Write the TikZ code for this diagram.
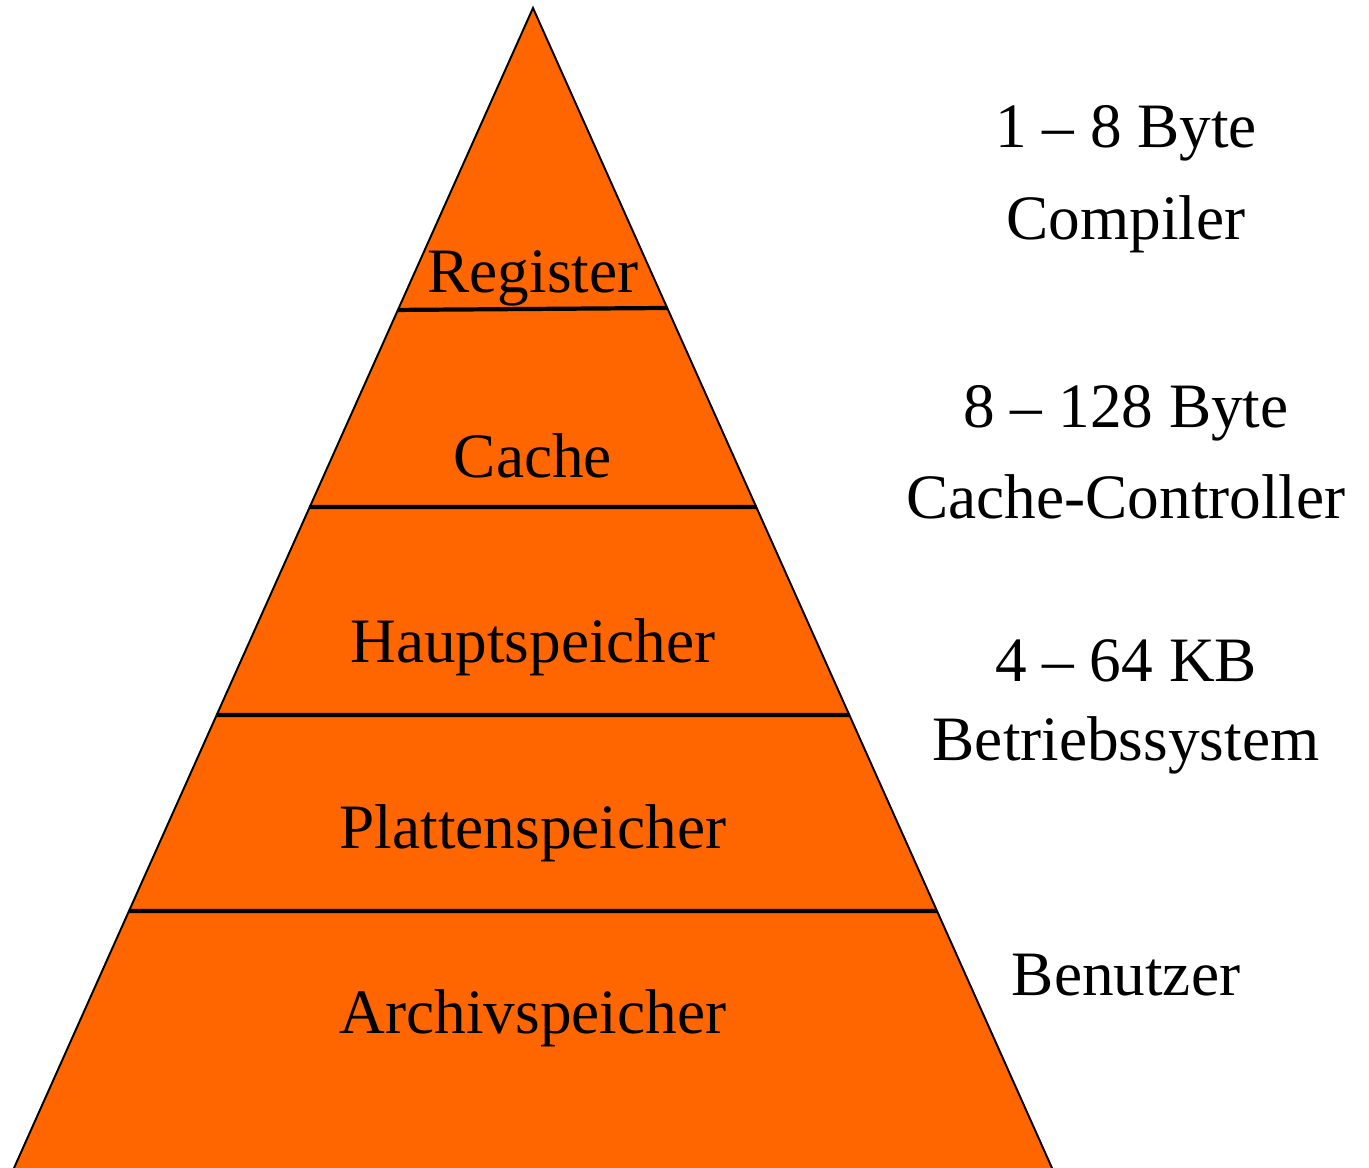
\documentclass[tikz,border=0pt]{standalone}
\usepackage{fontspec}
\setmainfont{Liberation Serif}
\usetikzlibrary{calc}
\definecolor{pyrorange}{HTML}{FF6600}
\tikzset{
  level/.style={anchor=base, inner sep=0pt, font=\fontsize{36}{43}\selectfont},
  note/.style={anchor=base, inner sep=0pt, font=\fontsize{36}{43}\selectfont},
  divider/.style={line width=2.4pt}
}
\begin{document}
\begin{tikzpicture}[x=0.02cm, y=-0.02cm]
\useasboundingbox (0, 0) rectangle (1369, 1168);
\clip (0, 0) rectangle (1369, 1168);

\coordinate (apex) at (533, 8);
\coordinate (bl) at (14, 1168);
\coordinate (br) at (1052, 1168);
\coordinate (bll) at ($(apex)!1.1!(bl)$);
\coordinate (brr) at ($(apex)!1.1!(br)$);

\draw [line width=1.1pt, fill=pyrorange] (apex) -- (bll) -- (brr) -- cycle;

\draw [divider] ($(apex)!0.2603!(bl)$) -- ($(apex)!0.2586!(br)$)
      ($(apex)!0.4302!(bl)$) -- ($(apex)!0.4302!(br)$)
      ($(apex)!0.6095!(bl)$) -- ($(apex)!0.6095!(br)$)
      ($(apex)!0.7784!(bl)$) -- ($(apex)!0.7784!(br)$);

% levels
\node [level] (register) at (533, 293) {Register};
\node [level] (cache) at (533, 478) {Cache};
\node [level] (haupt) at (533, 663) {Hauptspeicher};
\node [level] (platte) at (533, 848) {Plattenspeicher};
\node [level] (archiv) at (533, 1033) {Archivspeicher};

% sizes and who manages them
\node [note] (size1) at (1126, 148) {1 -- 8 Byte};
\node [note] (who1) at (1126, 240) {Compiler};
\node [note] (size2) at (1126, 428) {8 -- 128 Byte};
\node [note] (who2) at (1126, 519) {Cache-Controller};
\node [note] (size3) at (1126, 682) {4 -- 64 KB};
\node [note] (who3) at (1126, 760) {Betriebssystem};
\node [note] (who4) at (1126, 995) {Benutzer};
\end{tikzpicture}
\end{document}
